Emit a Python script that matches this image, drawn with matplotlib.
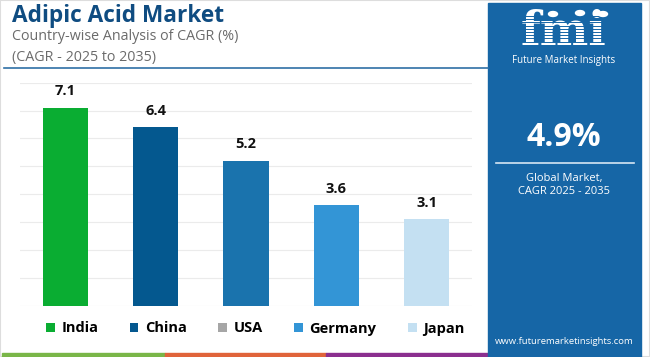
import numpy as np
import matplotlib
matplotlib.use("Agg")
import matplotlib.pyplot as plt
from matplotlib.patches import Patch, Rectangle, Circle

# data
countries = ["India", "China", "USA", "Germany", "Japan"]
cagr = [7.1, 6.4, 5.2, 3.6, 3.1]
bar_colors = ["#0aad32", "#04588f", "#1a73ad", "#3395d6", "#c4e0f2"]
legend_colors = ["#0aad32", "#04588f", "#a6a6a6", "#3395d6", "#c4e0f2"]
global_cagr = "4.9%"

W, H = 650, 357
plt.rcParams["font.family"] = ["Open Sans", "DejaVu Sans"]

fig = plt.figure(figsize=(W / 100, H / 100), dpi=100)
fig.patch.set_facecolor("white")


def fx(px):
    return px / W


def fy(py):
    return 1 - py / H


# main bar axes
ax = fig.add_axes([fx(20), fy(305.7), fx(472) - fx(20), fy(82.7) - fy(305.7)])
x = np.arange(len(countries))
bars = ax.bar(x, cagr, width=0.5, color=bar_colors, zorder=3)
ax.set_xlim(-0.5, len(countries) - 0.5)
ax.set_ylim(0, 8)
ax.set_yticks(np.arange(0, 9, 1))
ax.grid(axis="y", color="#ebebeb", linewidth=0.8, zorder=0)
ax.tick_params(left=False, bottom=False, labelleft=False, labelbottom=False)
for s in ax.spines.values():
    s.set_visible(False)
for b, v in zip(bars, cagr):
    ax.annotate(f"{v}", (b.get_x() + b.get_width() / 2, v), xytext=(0, 7),
                textcoords="offset points", ha="center", va="bottom",
                fontsize=10.5, fontweight="bold", color="#111111")

# titles
fig.text(fx(12), fy(16), "Adipic Acid Market", fontsize=16.3, fontweight="bold",
         color="#0f4c81", va="center", ha="left")
fig.text(fx(12), fy(37), "Country-wise Analysis of CAGR (%)", fontsize=10.3,
         color="#6b6b6b", va="center", ha="left")
fig.text(fx(12), fy(57), "(CAGR - 2025 to 2035)", fontsize=10.3,
         color="#6b6b6b", va="center", ha="left")
fig.add_artist(plt.Line2D([fx(4), fx(488)], [fy(68.3), fy(68.3)],
                          color="#2f6fa6", linewidth=1.2))

# legend
handles = [Patch(facecolor=c, edgecolor="none") for c in legend_colors]
leg = fig.legend(handles, countries, loc="center left", ncol=5,
                 bbox_to_anchor=(fx(46), fy(328.5)), frameon=False,
                 prop={"weight": "bold", "size": 10.5},
                 handlelength=0.6, handleheight=0.6, handletextpad=0.45,
                 columnspacing=2.15, borderaxespad=0, borderpad=0)

# bottom colour strip
for x0, x1, c in [(2, 165, "#7ab648"), (165, 326, "#e0643a"), (326, 488, "#8b2f8f")]:
    fig.add_artist(Rectangle((fx(x0), 0), fx(x1) - fx(x0), fy(353) - 0,
                             color=c, transform=fig.transFigure))

# right panel
panel = "#1666a6"
fig.add_artist(Rectangle((fx(488), 0), fx(641) - fx(488), fy(3),
                         color=panel, transform=fig.transFigure, zorder=1))
cx = fx(564)
fig.text(cx, fy(55), "fmi", fontsize=33, fontweight="bold", color="white",
         family="DejaVu Serif", ha="center", va="bottom", zorder=2)
for yy in np.arange(16, 50, 3.2):
    fig.add_artist(plt.Line2D([fx(505), fx(622)], [fy(yy), fy(yy)],
                              color=panel, linewidth=0.7, zorder=3))
for px_, py_ in [(553, 14), (580, 13), (603, 14)]:
    fig.add_artist(Circle((fx(px_), fy(py_)), fx(4.5), color="white",
                          transform=fig.transFigure, zorder=4))
fig.text(cx, fy(61), "Future Market Insights", fontsize=7, color="white",
         ha="center", va="center", zorder=4)
fig.text(cx, fy(137), global_cagr, fontsize=23, fontweight="bold",
         color="white", ha="center", va="center", zorder=4)
fig.add_artist(plt.Line2D([fx(496), fx(634)], [fy(162.7), fy(162.7)],
                          color="#d6e6f3", linewidth=1.2, zorder=4))
fig.text(cx, fy(178.5), "Global Market,", fontsize=8, color="white",
         ha="center", va="center", zorder=4)
fig.text(cx, fy(191), "CAGR 2025 - 2035", fontsize=8, color="white",
         ha="center", va="center", zorder=4)
fig.text(cx, fy(341), "www.futuremarketinsights.com", fontsize=6.8,
         color="white", ha="center", va="center", zorder=4)

# thin light border around the image
fig.add_artist(Rectangle((0, 0), 1, 1, fill=False, edgecolor="#dddddd",
                         linewidth=1.5, transform=fig.transFigure, zorder=0))

fig.savefig("out.png", dpi=100)
